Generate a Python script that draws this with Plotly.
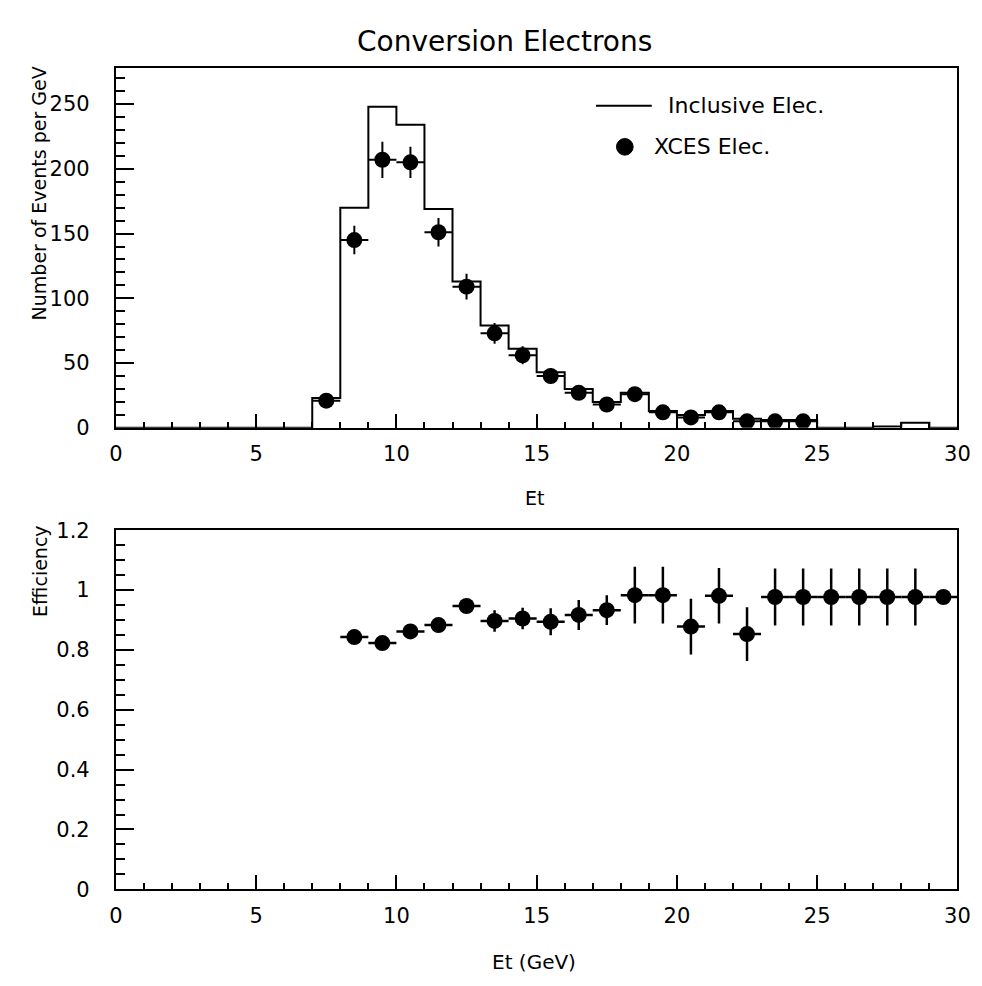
import plotly.graph_objects as go

# ---------------- data ----------------
# Inclusive electrons histogram (events per GeV), 1 GeV bins from 0 to 30
bin_lo = list(range(0, 30))
inclusive_counts = [0, 0, 0, 0, 0, 0, 0, 23, 170, 248,
                    234, 169, 113, 79, 61, 43, 30, 20, 27, 13,
                    10, 13, 7, 6, 6, 0, 0, 1, 4, 0]

# XCES electrons (points at bin centres)
xces_et = [7.5, 8.5, 9.5, 10.5, 11.5, 12.5, 13.5, 14.5, 15.5,
           16.5, 17.5, 18.5, 19.5, 20.5, 21.5, 22.5, 23.5, 24.5]
xces_counts = [21, 145, 207, 205, 151, 109, 73, 56, 40,
               27, 18, 26, 12, 8, 12, 5, 5, 5]
xces_err = [4, 11, 14, 12, 11, 10, 8, 7, 6,
            5, 4, 5, 3, 3, 3, 2, 2, 2]

# Efficiency vs Et
eff_et = [8.5, 9.5, 10.5, 11.5, 12.5, 13.5, 14.5, 15.5, 16.5, 17.5, 18.5,
          19.5, 20.5, 21.5, 22.5, 23.5, 24.5, 25.5, 26.5, 27.5, 28.5, 29.5]
eff_val = [0.843, 0.823, 0.862, 0.883, 0.947, 0.897, 0.905, 0.894, 0.917, 0.933, 0.983,
           0.983, 0.878, 0.981, 0.853, 0.977, 0.977, 0.977, 0.977, 0.977, 0.977, 0.977]
eff_err = [0.012, 0.012, 0.012, 0.012, 0.012, 0.036, 0.036, 0.045, 0.05, 0.05, 0.095,
           0.095, 0.093, 0.093, 0.09, 0.095, 0.095, 0.095, 0.095, 0.095, 0.095, 0.0]
half_bin = 0.5

x_ticks = [0, 5, 10, 15, 20, 25, 30]

# ---------------- figure ----------------
W, H = 982, 986
FONT = "DejaVu Sans"


def px(x):
    return x / W


def py(y):
    return 1 - y / H


fig = go.Figure()

# histogram outline (step)
fig.add_trace(go.Scatter(
    x=bin_lo + [30], y=inclusive_counts + [inclusive_counts[-1]],
    mode="lines", line=dict(shape="hv", color="black", width=2),
    name="Inclusive Elec.", xaxis="x", yaxis="y", showlegend=False,
    hoverinfo="skip"))

fig.add_trace(go.Scatter(
    x=xces_et, y=xces_counts, mode="markers",
    marker=dict(color="black", size=16, symbol="circle"),
    error_x=dict(type="constant", value=half_bin, width=0, thickness=2, color="black"),
    error_y=dict(type="data", array=xces_err, width=0, thickness=2, color="black"),
    name="XCES Elec.", xaxis="x", yaxis="y", showlegend=False))

fig.add_trace(go.Scatter(
    x=eff_et, y=eff_val, mode="markers",
    marker=dict(color="black", size=16, symbol="circle"),
    error_x=dict(type="constant", value=half_bin, width=0, thickness=2.5, color="black"),
    error_y=dict(type="data", array=eff_err, width=0, thickness=2.5, color="black"),
    name="Efficiency", xaxis="x2", yaxis="y2", showlegend=False))

xdom = [px(103), px(962)]
axis_common = dict(showline=True, mirror=True, linecolor="black", linewidth=2,
                   showgrid=False, zeroline=False, ticks="inside",
                   tickcolor="black", tickwidth=1.5,
                   tickfont=dict(family=FONT, size=21, color="black"))

fig.update_layout(
    width=W, height=H,
    margin=dict(l=0, r=0, t=0, b=0, pad=0),
    paper_bgcolor="white", plot_bgcolor="white",
    xaxis=dict(domain=xdom, range=[0, 30], anchor="y", tickvals=x_ticks,
               ticklen=14, minor=dict(dtick=1, ticklen=6, ticks="inside", tickcolor="black"),
               ticklabelstandoff=6, **axis_common),
    yaxis=dict(domain=[py(418), py(49)], range=[0, 278], anchor="x",
               tick0=0, dtick=50, ticklen=18,
               minor=dict(dtick=10, ticklen=9, ticks="inside", tickcolor="black"),
               ticklabelstandoff=20, **axis_common),
    xaxis2=dict(domain=xdom, range=[0, 30], anchor="y2", tickvals=x_ticks,
                ticklen=14, minor=dict(dtick=1, ticklen=6, ticks="inside", tickcolor="black"),
                ticklabelstandoff=6, **axis_common),
    yaxis2=dict(domain=[py(891), py(523)], range=[0, 1.2], anchor="x2",
                tick0=0, dtick=0.2, ticklen=18,
                minor=dict(dtick=0.05, ticklen=9, ticks="inside", tickcolor="black"),
                ticklabelstandoff=20, **axis_common),
)

ann_font = dict(family=FONT, color="black")
annotations = [
    dict(text="Conversion Electrons", x=px(500), y=py(22), font=dict(size=28, **ann_font)),
    dict(text="Et", x=px(530), y=py(490), font=dict(size=19, **ann_font)),
    dict(text="Et (GeV)", x=px(530), y=py(965), font=dict(size=20, **ann_font)),
    dict(text="Number of Events per GeV", x=px(24), y=py(46), yanchor="top",
         textangle=-90, font=dict(size=19, **ann_font)),
    dict(text="Efficiency", x=px(26), y=py(515), yanchor="top",
         textangle=-90, font=dict(size=19, **ann_font)),
    # legend texts
    dict(text="Inclusive Elec.", x=px(665), y=py(88), xanchor="left",
         font=dict(size=22, **ann_font)),
    dict(text="XCES Elec.", x=px(650), y=py(130), xanchor="left",
         font=dict(size=22, **ann_font)),
]
for a in annotations:
    a.setdefault("xanchor", "center")
    a.setdefault("yanchor", "middle")
    a.update(xref="paper", yref="paper", showarrow=False)
fig.update_layout(annotations=annotations)

# legend symbols
fig.add_shape(type="line", xref="paper", yref="paper",
              x0=px(593), x1=px(650), y0=py(88), y1=py(88),
              line=dict(color="black", width=2))
fig.add_shape(type="circle", xref="paper", yref="paper",
              x0=px(614), x1=px(631), y0=py(138.5), y1=py(121.5),
              fillcolor="black", line=dict(color="black", width=1))

fig.write_html("out.html")
